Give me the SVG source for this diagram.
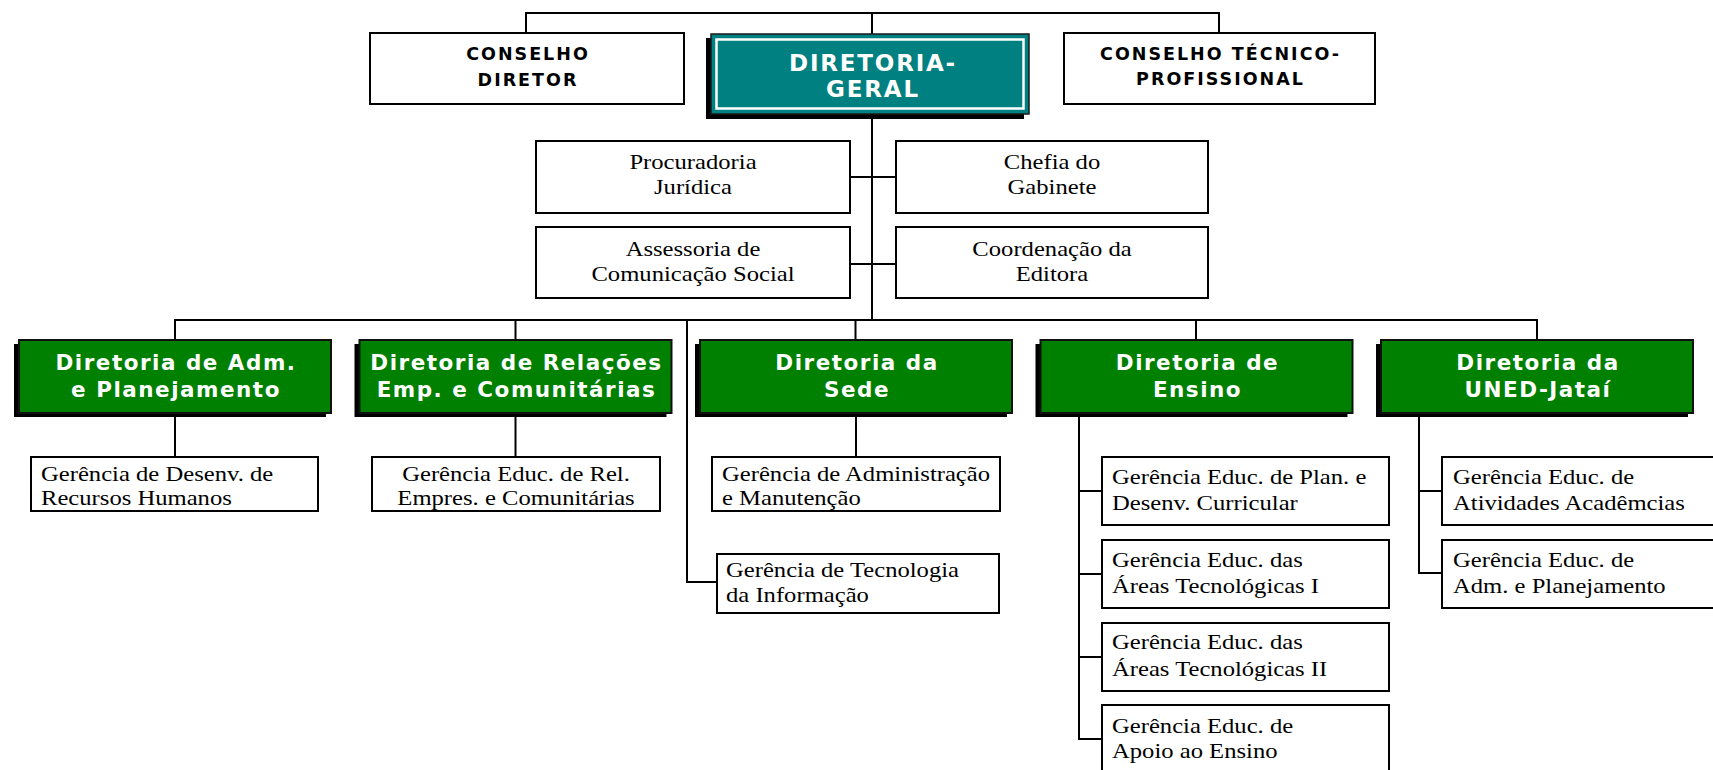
<svg xmlns="http://www.w3.org/2000/svg" width="1713" height="770" viewBox="0 0 1713 770">
<style>
.bg{fill:#ffffff}
.box{fill:#ffffff;stroke:#000000;stroke-width:2}
.shadow{fill:#000000}
.green{fill:#008000;stroke:#111111;stroke-width:2}
.teal{fill:#008080;stroke:#1a1a1a;stroke-width:1.5}
.tealin{fill:none;stroke:#ffffff;stroke-width:2.5}
.conn{fill:none;stroke:#000000;stroke-width:2}
.hd{font-family:"DejaVu Sans","Verdana",sans-serif;font-weight:bold;font-size:17.5px;letter-spacing:2px;fill:#000000;text-anchor:middle}
.dg{font-family:"DejaVu Sans","Verdana",sans-serif;font-weight:bold;font-size:23px;letter-spacing:1.8px;fill:#ffffff;text-anchor:middle}
.gt{font-family:"DejaVu Sans","Verdana",sans-serif;font-weight:bold;font-size:21.5px;letter-spacing:1.5px;fill:#ffffff;text-anchor:middle}
.tm{font-family:"Liberation Serif","Times New Roman",serif;font-size:22px;fill:#000000}
.c{text-anchor:middle}
.l{text-anchor:start}
</style>
<rect class="bg" x="0" y="0" width="1713" height="770"/>

<g id="connectors">
<path class="conn" d="M526,34 V13 H1219 V33 M872,13 V34"/>
<path class="conn" d="M872,118 V320"/>
<path class="conn" d="M850,177 H896 M850,264 H896"/>
<path class="conn" d="M175,340 V320 H1537 V340 M515.5,320 V340 M855.5,320 V340 M1196,320 V340"/>
<path class="conn" d="M687,320 V582 H717"/>
<path class="conn" d="M175,413 V457 M515.5,413 V457 M856,413 V457"/>
<path class="conn" d="M1079,413 V739 H1102 M1079,491 H1102 M1079,574 H1102 M1079,657 H1102"/>
<path class="conn" d="M1419,413 V573 H1442 M1419,491 H1442"/>
</g>

<g id="conselho-diretor">
<rect class="box" x="370" y="33" width="314" height="71"/>
<text class="hd" x="528" y="60">CONSELHO</text>
<text class="hd" x="528" y="86">DIRETOR</text>
</g>

<g id="diretoria-geral">
<rect class="shadow" x="706" y="38" width="318" height="81"/>
<rect class="teal" x="711" y="34" width="318" height="80"/>
<rect class="tealin" x="716.5" y="39.5" width="307" height="69"/>
<text class="dg" x="873" y="71">DIRETORIA-</text>
<text class="dg" x="873" y="97">GERAL</text>
</g>

<g id="conselho-tecnico">
<rect class="box" x="1064" y="33" width="311" height="71"/>
<text class="hd" x="1220.5" y="60">CONSELHO TÉCNICO-</text>
<text class="hd" x="1220.5" y="85">PROFISSIONAL</text>
</g>

<g id="procuradoria">
<rect class="box" x="536" y="141" width="314" height="72"/>
<g transform="translate(693,0) scale(1.12,1)"><text class="tm c" x="0" y="169">Procuradoria</text><text class="tm c" x="0" y="194">Jurídica</text></g>
</g>

<g id="chefia-gabinete">
<rect class="box" x="896" y="141" width="312" height="72"/>
<g transform="translate(1052,0) scale(1.12,1)"><text class="tm c" x="0" y="169">Chefia do</text><text class="tm c" x="0" y="194">Gabinete</text></g>
</g>

<g id="assessoria">
<rect class="box" x="536" y="227" width="314" height="71"/>
<g transform="translate(693,0) scale(1.12,1)"><text class="tm c" x="0" y="256">Assessoria de</text><text class="tm c" x="0" y="281">Comunicação Social</text></g>
</g>

<g id="coordenacao-editora">
<rect class="box" x="896" y="227" width="312" height="71"/>
<g transform="translate(1052,0) scale(1.12,1)"><text class="tm c" x="0" y="256">Coordenação da</text><text class="tm c" x="0" y="281">Editora</text></g>
</g>

<g id="dir-adm">
<rect class="shadow" x="14" y="344" width="312" height="73"/>
<rect class="green" x="19" y="340" width="312" height="73"/>
<text class="gt" x="176" y="370">Diretoria de Adm.</text>
<text class="gt" x="176" y="397">e Planejamento</text>
</g>

<g id="dir-relacoes">
<rect class="shadow" x="354.5" y="344" width="312" height="73"/>
<rect class="green" x="359.5" y="340" width="312" height="73"/>
<text class="gt" x="516.5" y="370">Diretoria de Relações</text>
<text class="gt" x="516.5" y="397">Emp. e Comunitárias</text>
</g>

<g id="dir-sede">
<rect class="shadow" x="695" y="344" width="312" height="73"/>
<rect class="green" x="700" y="340" width="312" height="73"/>
<text class="gt" x="857" y="370">Diretoria da</text>
<text class="gt" x="857" y="397">Sede</text>
</g>

<g id="dir-ensino">
<rect class="shadow" x="1035.5" y="344" width="312" height="73"/>
<rect class="green" x="1040.5" y="340" width="312" height="73"/>
<text class="gt" x="1197.5" y="370">Diretoria de</text>
<text class="gt" x="1197.5" y="397">Ensino</text>
</g>

<g id="dir-uned">
<rect class="shadow" x="1376" y="344" width="312" height="73"/>
<rect class="green" x="1381" y="340" width="312" height="73"/>
<text class="gt" x="1538" y="370">Diretoria da</text>
<text class="gt" x="1538" y="397">UNED-Jataí</text>
</g>

<g id="ger-rh">
<rect class="box" x="31" y="457" width="287" height="54"/>
<g transform="translate(41,0) scale(1.12,1)"><text class="tm l" x="0" y="481">Gerência de Desenv. de</text><text class="tm l" x="0" y="505">Recursos Humanos</text></g>
</g>

<g id="ger-rel">
<rect class="box" x="372" y="457" width="288" height="54"/>
<g transform="translate(516,0) scale(1.12,1)"><text class="tm c" x="0" y="481">Gerência Educ. de Rel.</text><text class="tm c" x="0" y="505">Empres. e Comunitárias</text></g>
</g>

<g id="ger-adm-man">
<rect class="box" x="712" y="457" width="288" height="54"/>
<g transform="translate(722,0) scale(1.12,1)"><text class="tm l" x="0" y="481">Gerência de Administração</text><text class="tm l" x="0" y="505">e Manutenção</text></g>
</g>

<g id="ger-ti">
<rect class="box" x="717" y="554" width="282" height="59"/>
<g transform="translate(726,0) scale(1.12,1)"><text class="tm l" x="0" y="577">Gerência de Tecnologia</text><text class="tm l" x="0" y="602">da Informação</text></g>
</g>

<g id="ger-plan-curr">
<rect class="box" x="1102" y="457" width="287" height="68"/>
<g transform="translate(1112,0) scale(1.12,1)"><text class="tm l" x="0" y="484">Gerência Educ. de Plan. e</text><text class="tm l" x="0" y="510">Desenv. Curricular</text></g>
</g>

<g id="ger-areas-1">
<rect class="box" x="1102" y="540" width="287" height="68"/>
<g transform="translate(1112,0) scale(1.12,1)"><text class="tm l" x="0" y="567">Gerência Educ. das</text><text class="tm l" x="0" y="593">Áreas Tecnológicas I</text></g>
</g>

<g id="ger-areas-2">
<rect class="box" x="1102" y="623" width="287" height="68"/>
<g transform="translate(1112,0) scale(1.12,1)"><text class="tm l" x="0" y="649">Gerência Educ. das</text><text class="tm l" x="0" y="676">Áreas Tecnológicas II</text></g>
</g>

<g id="ger-apoio">
<rect class="box" x="1102" y="705" width="287" height="80"/>
<g transform="translate(1112,0) scale(1.12,1)"><text class="tm l" x="0" y="733">Gerência Educ. de</text><text class="tm l" x="0" y="758">Apoio ao Ensino</text></g>
</g>

<g id="ger-ativ-acad">
<rect class="box" x="1442" y="457" width="300" height="68"/>
<g transform="translate(1453,0) scale(1.12,1)"><text class="tm l" x="0" y="484">Gerência Educ. de</text><text class="tm l" x="0" y="510">Atividades Acadêmcias</text></g>
</g>

<g id="ger-adm-plan">
<rect class="box" x="1442" y="540" width="300" height="68"/>
<g transform="translate(1453,0) scale(1.12,1)"><text class="tm l" x="0" y="567">Gerência Educ. de</text><text class="tm l" x="0" y="593">Adm. e Planejamento</text></g>
</g>
</svg>
